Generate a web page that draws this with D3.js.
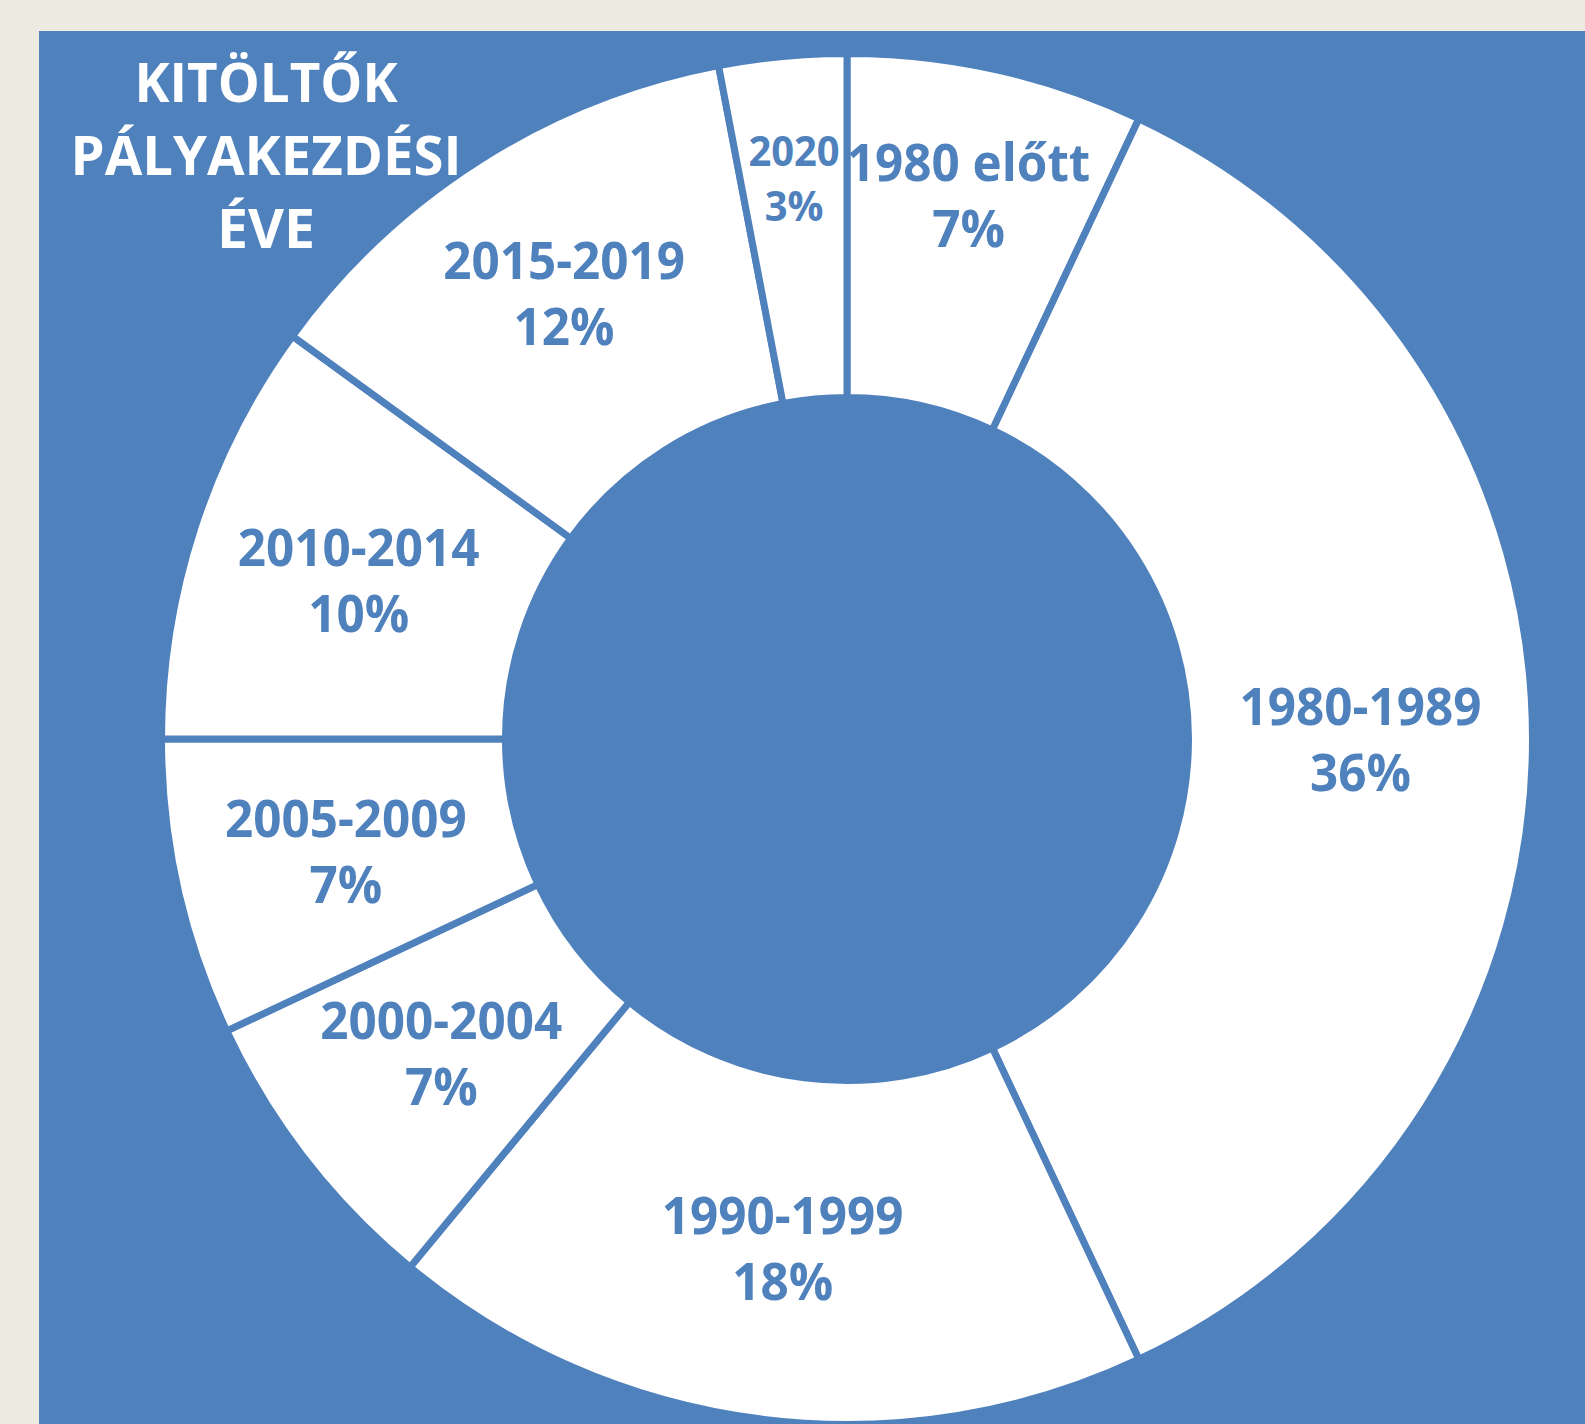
<!DOCTYPE html>
<html>
<head>
<meta charset="utf-8">
<script src="https://cdn.jsdelivr.net/npm/d3@7"></script>
<style>
  html, body { margin: 0; padding: 0; background: #EDEBE1; }
  svg { display: block; }
</style>
</head>
<body>
<script>
// page size
const w = 1585;
const h = 1424;

// categories (clockwise from 12 o'clock) and their shares in percent
const categories = ["1980 előtt", "1980-1989", "1990-1999", "2000-2004", "2005-2009", "2010-2014", "2015-2019", "2020"];
const shares = [7, 36, 18, 7, 7, 10, 12, 3];
// title lines
const titleLines = ["KITÖLTŐK", "PÁLYAKEZDÉSI", "ÉVE"];

const blue = "#4F81BD";
const sw = 7; // separator width

const svg = d3.select("body").append("svg")
  .attr("width", w)
  .attr("height", h);

// beige page, blue panel
svg.append("rect").attr("width", w).attr("height", h).attr("fill", "#EDEBE1");
svg.append("rect")
  .attr("x", 39).attr("y", 31)
  .attr("width", w - 39).attr("height", h - 31)
  .attr("fill", blue);

// donut geometry (visible white ring 345..682)
const cx = 847, cy = 739;
const outerR = 682 + sw / 2, innerR = 345 - sw / 2;

const pie = d3.pie().sort(null).value(d => d.value);
const arc = d3.arc().innerRadius(innerR).outerRadius(outerR);

const data = categories.map((c, i) => ({ name: c, value: shares[i] }));
const arcs = pie(data);

const g = svg.append("g").attr("transform", `translate(${cx},${cy})`);

// white slices separated by blue strokes
g.selectAll("path")
  .data(arcs)
  .enter()
  .append("path")
  .attr("d", arc)
  .attr("fill", "#ffffff")
  .attr("stroke", blue)
  .attr("stroke-width", sw);

// label placement: mid-ring, narrow slices near the top are pushed outwards
const midR = (345 + 682) / 2;
function labelPos(d) {
  const a = (d.startAngle + d.endAngle) / 2;
  const nearTop = Math.cos(a) > 0.95;
  let r = midR;
  if (nearTop) r = d.data.value <= 3 ? 563 : 557;
  else if (Math.cos(a) > 0.8) r = 528;
  return [r * Math.sin(a), -r * Math.cos(a)];
}

const labels = g.selectAll("g.label")
  .data(arcs)
  .enter()
  .append("g")
  .attr("class", "label")
  .attr("transform", d => `translate(${labelPos(d)})`);

labels.each(function(d) {
  const small = d.data.value <= 3;
  const fs = small ? 42 : 52;
  const gap = small ? 55 : 66;
  const lines = [d.data.name, d.data.value + "%"];
  const sel = d3.select(this);
  lines.forEach((t, i) => {
    const txt = sel.append("text")
      .attr("x", 0)
      .attr("y", (i - 0.5) * gap + 0.36 * fs)
      .attr("text-anchor", "middle")
      .attr("font-family", "'Open Sans', 'Noto Sans', sans-serif")
      .attr("font-weight", 700)
      .attr("font-size", fs)
      .attr("fill", blue)
      .text(t);
    const len = txt.node().getComputedTextLength();
    txt.attr("textLength", len * 0.95).attr("lengthAdjust", "spacingAndGlyphs");
  });
});

// title, top left
const titleWidths = [263, 391, 98];
svg.append("g")
  .selectAll("text")
  .data(titleLines)
  .enter()
  .append("text")
  .attr("x", 266)
  .attr("y", (d, i) => 102 + i * 73)
  .attr("text-anchor", "middle")
  .attr("font-family", "'Open Sans', 'Noto Sans', sans-serif")
  .attr("font-weight", 700)
  .attr("font-size", 54)
  .attr("fill", "#ffffff")
  .attr("textLength", (d, i) => titleWidths[i])
  .attr("lengthAdjust", "spacingAndGlyphs")
  .text(d => d);
</script>
</body>
</html>
